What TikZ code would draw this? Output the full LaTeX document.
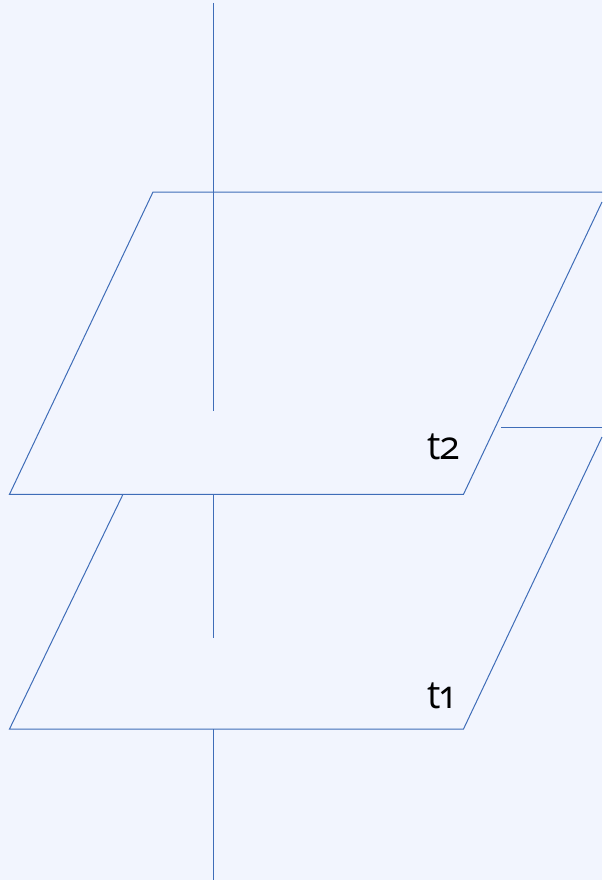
\documentclass[tikz,border=0pt]{standalone}
\usepackage{fontspec}
\setmainfont[Numbers=OldStyle,FakeStretch=0.97]{Open Sans}
\definecolor{bgc}{HTML}{F2F5FE}
\definecolor{linec}{HTML}{3F6DB8}
\tikzset{planeline/.style={draw=linec,line width=1pt,line join=miter},
  lab/.style={inner sep=0pt,anchor=base west,font=\fontsize{39}{44}\selectfont,text=black}}
\begin{document}
\begin{tikzpicture}[x=1pt,y=-1pt]
\path[use as bounding box,fill=bgc] (0,0) rectangle (602,880);
% upper plane
\draw[planeline] (602,192) -- (153,192) -- (9.5,494.3) -- (463.5,494.3) -- (602,202);
% lower plane
\draw[planeline] (602,427) -- (501,427);
\draw[planeline] (602,437) -- (463.5,729) -- (9.5,729) -- (123,494.3);
% axis
\draw[planeline] (213.5,3) -- (213.5,411);
\draw[planeline] (213.5,494.3) -- (213.5,638);
\draw[planeline] (213.5,729) -- (213.5,880);
\node[lab] (t2) at (427,459) {t2};
\node[lab] (t1) at (427,708) {t1};
\end{tikzpicture}
\end{document}
